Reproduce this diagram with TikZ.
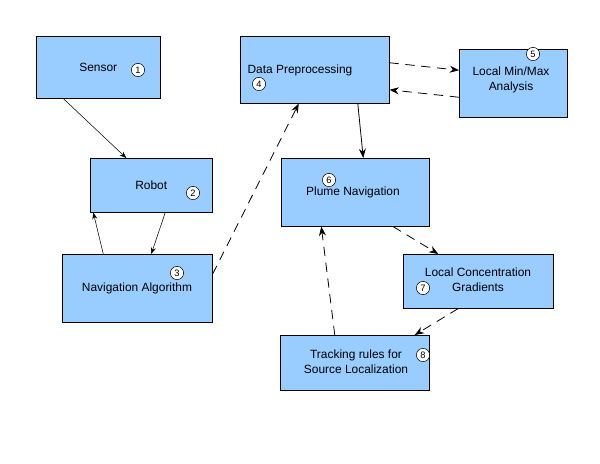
\documentclass[tikz,border=0pt]{standalone}
\usepackage{fontspec}
\setmainfont{Liberation Sans}
\usetikzlibrary{positioning,arrows.meta}
\definecolor{boxblue}{HTML}{99CCFF}
\tikzset{
  box/.style={draw, fill=boxblue, anchor=north west, align=center, inner sep=0pt, font=\small},
  num/.style={draw, circle, fill=white, inner sep=0.5pt, minimum size=10pt, font=\scriptsize},
  link/.style={-{Stealth[length=5pt]}, thin},
  dashlink/.style={-{Stealth[length=7pt]}, dash pattern=on 7pt off 5pt, semithick},
}
\begin{document}
\begin{tikzpicture}[x=0.0265cm, y=-0.0265cm]
		\useasboundingbox (0,0) rectangle (600,464);
		\node[box, minimum width=124*0.0265cm, minimum height=62*0.0265cm] (sensor) at (36,36) {Sensor};
		\node[box, minimum width=122*0.0265cm, minimum height=54*0.0265cm] (robot) at (90,158) {Robot};
		\node[box, minimum width=150*0.0265cm, minimum height=68*0.0265cm] (nav) at (62,254) {};
		\node[box, minimum width=149*0.0265cm, minimum height=67*0.0265cm] (prep) at (240,36) {};
		\node[box, minimum width=108*0.0265cm, minimum height=68*0.0265cm] (minmax) at (459,49) {};
		\node[box, minimum width=148*0.0265cm, minimum height=68*0.0265cm] (plume) at (281,158) {};
		\node[box, minimum width=150*0.0265cm, minimum height=54*0.0265cm] (conc) at (403,254) {};
		\node[box, minimum width=149*0.0265cm, minimum height=55*0.0265cm] (track) at (280,335) {};

		% labels
		\node[font=\small] at (137,288) {Navigation Algorithm};
		\node[font=\small] at (300,70) {Data Preprocessing};
		\node[font=\small, align=center] at (511,80) {Local Min/Max\\Analysis};
		\node[font=\small] at (353,192) {Plume Navigation};
		\node[font=\small, align=center] at (478,280) {Local Concentration\\Gradients};
		\node[font=\small, align=center] at (356,362) {Tracking rules for\\Source Localization};

		% numbers
		\node[num] at (138,70) {1};
		\node[num] at (193,193) {2};
		\node[num] at (177,273) {3};
		\node[num] at (259,84) {4};
		\node[num] at (533,54) {5};
		\node[num] at (329,180) {6};
		\node[num] at (423,288) {7};
		\node[num] at (423,355) {8};

		% connectors
		\draw[link] ([xshift=-0.928cm]sensor.south) -- ([xshift=-0.663cm]robot.north);
		\draw[link] ([xshift=-0.901cm]nav.north) -- ([xshift=-1.537cm]robot.south);
		\draw[link] ([xshift=0.371cm]robot.south) -- ([xshift=0.371cm]nav.north);
		\draw[dashlink] ([yshift=0.371cm]nav.east) -- ([xshift=-0.424cm]prep.south);
		\draw[dashlink] ([yshift=0.186cm]prep.east) -- ([yshift=0.345cm]minmax.west);
		\draw[dashlink] ([yshift=-0.371cm]minmax.west) -- ([yshift=-0.530cm]prep.east);
		\draw[-{Stealth[length=7pt]}, semithick] ([xshift=1.140cm]prep.south) -- ([xshift=0.212cm]plume.north);
		\draw[dashlink] ([xshift=1.0cm]plume.south) -- ([xshift=-1.06cm]conc.north);
		\draw[dashlink] ([xshift=-0.53cm]conc.south) -- ([xshift=1.59cm]track.north);
		\draw[dashlink] ([xshift=-0.53cm]track.north) -- ([xshift=-0.9cm]plume.south);
\end{tikzpicture}
\end{document}
